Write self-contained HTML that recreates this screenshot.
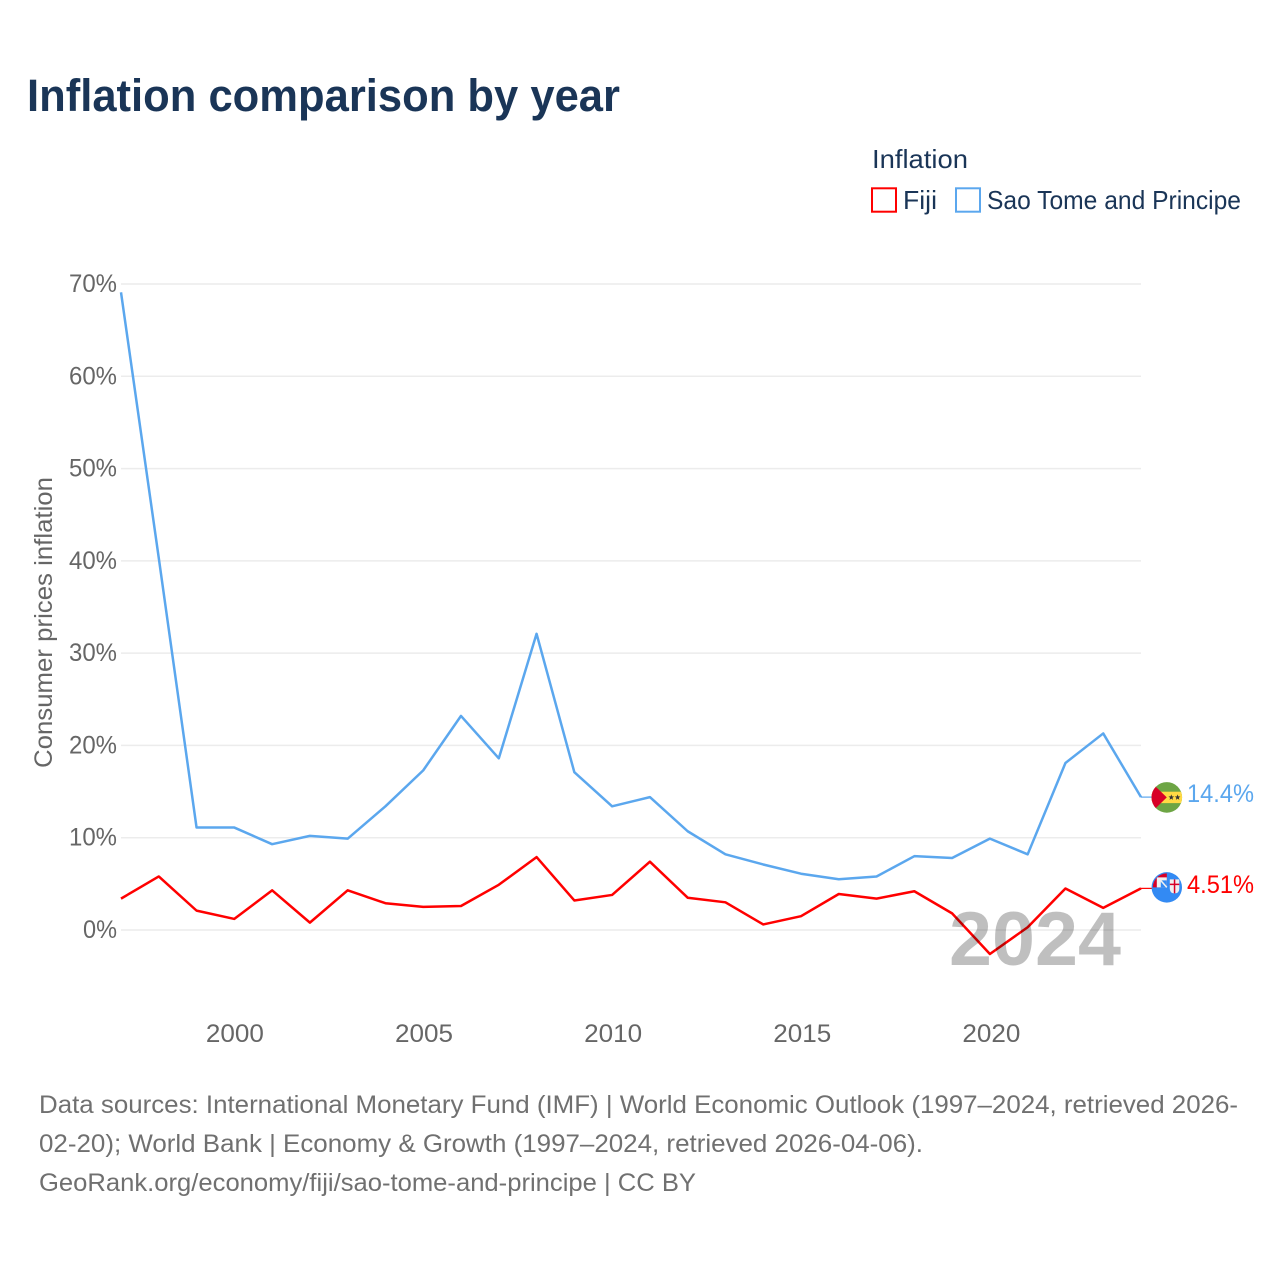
<!DOCTYPE html>
<html lang="en">
<head>
<meta charset="utf-8">
<title>Inflation comparison by year</title>
<style>
html,body{margin:0;padding:0;background:#fff;}
svg{display:block;font-family:"Liberation Sans",Arial,sans-serif;}
</style>
</head>
<body>
<svg id="chart" xmlns="http://www.w3.org/2000/svg" width="1280" height="1280" viewBox="0 0 1280 1280">
  <rect width="1280" height="1280" fill="#ffffff"/>
  <text x="27" y="111" font-size="45" font-weight="700" fill="#1a3557" textLength="593" lengthAdjust="spacingAndGlyphs">Inflation comparison by year</text>

  <g>
    <text x="872" y="168" font-size="26" fill="#1a3557" textLength="96" lengthAdjust="spacingAndGlyphs">Inflation</text>
    <g>
      <rect x="872" y="188.3" width="24" height="23.4" fill="none" stroke="#ff0000" stroke-width="2"/>
      <text x="903" y="209" font-size="26" fill="#1a3557" textLength="34" lengthAdjust="spacingAndGlyphs">Fiji</text>
    </g>
    <g>
      <rect x="956" y="188.3" width="24" height="23.4" fill="none" stroke="#5ba7ee" stroke-width="2"/>
      <text x="987" y="209" font-size="26" fill="#1a3557" textLength="254" lengthAdjust="spacingAndGlyphs">Sao Tome and Principe</text>
    </g>
  </g>

  <text transform="translate(52 768) rotate(-90)" font-size="25" fill="#666666" textLength="291" lengthAdjust="spacingAndGlyphs">Consumer prices inflation</text>

  <g id="grid"></g>
  <g id="yTicks"></g>
  <g id="xTicks"></g>

  <g id="series"></g>

  <text x="949" y="965" font-size="76" font-weight="700" fill="#000000" fill-opacity="0.25" textLength="172" lengthAdjust="spacingAndGlyphs">2024</text>

  <g id="flagSao"></g>
  <g id="flagFiji"></g>

  <text x="1187" y="802" font-size="25" fill="#5ba7ee" textLength="67" lengthAdjust="spacingAndGlyphs">14.4%</text>
  <text x="1187" y="893" font-size="25" fill="#ff0000" textLength="67" lengthAdjust="spacingAndGlyphs">4.51%</text>

  <g font-size="25" fill="#707070">
    <text x="39" y="1113" textLength="1199" lengthAdjust="spacingAndGlyphs">Data sources: International Monetary Fund (IMF) | World Economic Outlook (1997–2024, retrieved 2026-</text>
    <text x="39" y="1152" textLength="884" lengthAdjust="spacingAndGlyphs">02-20); World Bank | Economy &amp; Growth (1997–2024, retrieved 2026-04-06).</text>
    <text x="39" y="1191" textLength="657" lengthAdjust="spacingAndGlyphs">GeoRank.org/economy/fiji/sao-tome-and-principe | CC BY</text>
  </g>
</svg>

<script>
const years = [1997,1998,1999,2000,2001,2002,2003,2004,2005,2006,2007,2008,2009,2010,2011,2012,2013,2014,2015,2016,2017,2018,2019,2020,2021,2022,2023,2024];
const saoTomeValues = [69.1,40.3,11.1,11.1,9.3,10.2,9.9,13.4,17.3,23.2,18.6,32.1,17.1,13.4,14.4,10.7,8.2,7.1,6.1,5.5,5.8,8.0,7.8,9.9,8.2,18.1,21.3,14.4];
const fijiValues = [3.4,5.8,2.1,1.2,4.3,0.8,4.3,2.9,2.5,2.6,4.9,7.9,3.2,3.8,7.4,3.5,3.0,0.6,1.5,3.9,3.4,4.2,1.8,-2.6,0.3,4.5,2.4,4.51];
const yTickValues = [0,10,20,30,40,50,60,70];
const xTickValues = [2000,2005,2010,2015,2020];

const NS = 'http://www.w3.org/2000/svg';
function xScale(year){ return 121 + (year - 1997) * (1020 / 27); }
function yScale(v){ return 930 - v * (646 / 70); }
function make(tag, attrs){
  const el = document.createElementNS(NS, tag);
  for (const k in attrs) el.setAttribute(k, attrs[k]);
  return el;
}

const grid = document.getElementById('grid');
const yTicks = document.getElementById('yTicks');
yTickValues.forEach(function(v){
  const line = make('line', {x1:121, x2:1141, y1:yScale(v), y2:yScale(v), stroke:'#ececec', 'stroke-width':1.5});
  
  
  grid.appendChild(line);
  const t = make('text', {x:117, y:yScale(v)+8, 'text-anchor':'end', 'font-size':25, fill:'#666666'});
  
  
  t.textContent = v + '%';
  t.setAttribute('textLength', v === 0 ? 34 : 48);
  t.setAttribute('lengthAdjust', 'spacingAndGlyphs');
  yTicks.appendChild(t);
});

const xTicks = document.getElementById('xTicks');
xTickValues.forEach(function(y){
  const t = make('text', {x:xScale(y)+0.5+(y-2000)*0.05, y:1042, 'text-anchor':'middle', 'font-size':25, fill:'#666666'});
  
  
  t.textContent = y;
  t.setAttribute('textLength', 58);
  t.setAttribute('lengthAdjust', 'spacingAndGlyphs');
  xTicks.appendChild(t);
});

function linePath(values){
  return values.map(function(v, i){
    return (i ? 'L' : 'M') + xScale(years[i]).toFixed(2) + ' ' + yScale(v).toFixed(2);
  }).join(' ');
}
const series = document.getElementById('series');

const saoLine = make('path', {d:linePath(saoTomeValues), fill:'none', stroke:'#5ba7ee', 'stroke-width':2.5, 'stroke-linejoin':'round'});


series.appendChild(saoLine);

const fijiLine = make('path', {d:linePath(fijiValues), fill:'none', stroke:'#ff0000', 'stroke-width':2.5, 'stroke-linejoin':'round'});


series.appendChild(fijiLine);

const lastIndex = years.length - 1;
const saoConn = make('line', {x1:xScale(years[lastIndex]), x2:1152, y1:yScale(saoTomeValues[lastIndex]), y2:yScale(saoTomeValues[lastIndex]), stroke:'#5ba7ee', 'stroke-width':1.2});


series.appendChild(saoConn);

const fijiConn = make('line', {x1:xScale(years[lastIndex]), x2:1153, y1:yScale(fijiValues[lastIndex]), y2:yScale(fijiValues[lastIndex]), stroke:'#ff0000', 'stroke-width':1.2});


series.appendChild(fijiConn);

/* Flags are placed relative to each series' last value */
const cx = 1166.8;
const saoCy = yScale(saoTomeValues[lastIndex]) + 0.3;
const fijiCy = yScale(fijiValues[lastIndex]) - 1;
function starPoints(x, y, r){
  const pts = [];
  for (let i = 0; i < 10; i++){
    const rad = i % 2 ? r * 0.42 : r;
    const a = -Math.PI / 2 + i * Math.PI / 5;
    pts.push((x + rad * Math.cos(a)).toFixed(2) + ',' + (y + rad * Math.sin(a)).toFixed(2));
  }
  return pts.join(' ');
}
document.getElementById('flagSao').innerHTML =
  '<defs><clipPath id="clipSao"><circle cx="'+cx+'" cy="'+saoCy+'" r="15.3"/></clipPath></defs>' +
  '<g clip-path="url(#clipSao)">' +
  '<rect x="'+(cx-16)+'" y="'+(saoCy-16)+'" width="32" height="32" fill="#6da544"/>' +
  '<rect x="'+(cx-16)+'" y="'+(saoCy-5.7)+'" width="32" height="11.4" fill="#ffda44"/>' +
  '<path d="M'+(cx-16)+' '+(saoCy-15.5)+' L'+cx+' '+saoCy+' L'+(cx-16)+' '+(saoCy+15.5)+' Z" fill="#d80027"/>' +
  '<polygon points="'+starPoints(cx+4.5,saoCy,3)+'" fill="#333333"/>' +
  '<polygon points="'+starPoints(cx+10.8,saoCy,3)+'" fill="#333333"/>' +
  '</g>';
document.getElementById('flagFiji').innerHTML =
  '<defs><clipPath id="clipFiji"><circle cx="'+cx+'" cy="'+fijiCy+'" r="15.2"/></clipPath>' +
  '<clipPath id="clipFijiQ"><circle cx="'+cx+'" cy="'+fijiCy+'" r="14"/></clipPath></defs>' +
  '<circle cx="'+cx+'" cy="'+fijiCy+'" r="15.2" fill="#338af3"/>' +
  '<g clip-path="url(#clipFijiQ)">' +
  '<rect x="'+(cx-15)+'" y="'+(fijiCy-15)+'" width="15" height="15" fill="#d80027"/>' +
  '<rect x="'+(cx-10)+'" y="'+(fijiCy-10)+'" width="10" height="10" fill="#f0f0f0"/>' +
  '<rect x="'+(cx-6)+'" y="'+(fijiCy-7)+'" width="6" height="7" fill="#338af3"/>' +
  '<path d="M'+(cx-7)+' '+(fijiCy-8)+' L'+cx+' '+fijiCy+'" stroke="#f0f0f0" stroke-width="1.6"/>' +
  '</g>' +
  '<path d="M'+(cx+3)+' '+(fijiCy-8)+' H'+(cx+12.5)+' V'+(fijiCy+1)+' Q'+(cx+12.5)+' '+(fijiCy+6)+' '+(cx+7.75)+' '+(fijiCy+6)+' Q'+(cx+3)+' '+(fijiCy+6)+' '+(cx+3)+' '+(fijiCy+1)+' Z" fill="#f0f0f0"/>' +
  '<path d="M'+(cx+7.75)+' '+(fijiCy-8)+' V'+(fijiCy+6)+' M'+(cx+3)+' '+(fijiCy-3)+' H'+(cx+12.5)+'" stroke="#d80027" stroke-width="1.5"/>';
</script>
</body>
</html>
